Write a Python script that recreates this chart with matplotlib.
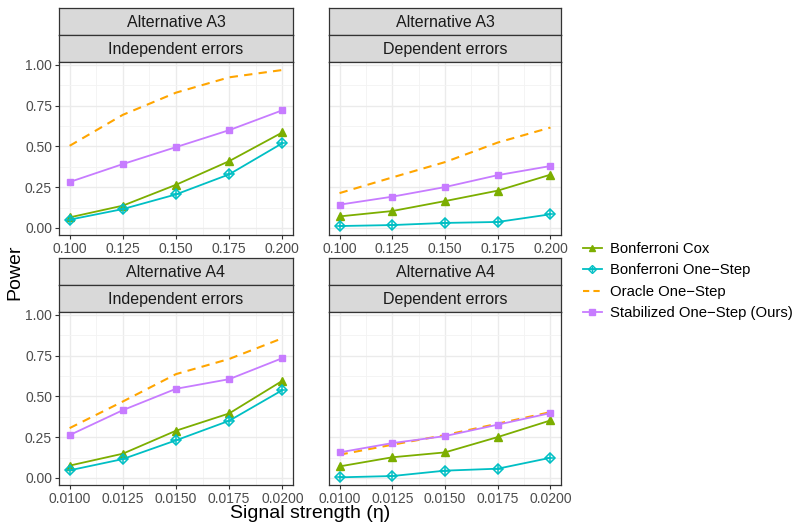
import numpy as np
import matplotlib.pyplot as plt
from matplotlib.lines import Line2D

plt.rcParams['font.family'] = ['Liberation Sans', 'DejaVu Sans']

eta_a3 = [0.100, 0.125, 0.150, 0.175, 0.200]
eta_a4 = [0.0100, 0.0125, 0.0150, 0.0175, 0.0200]
a3_ticks = ['0.100', '0.125', '0.150', '0.175', '0.200']
a4_ticks = ['0.0100', '0.0125', '0.0150', '0.0175', '0.0200']

methods = ['Bonferroni Cox', 'Bonferroni One\u2212Step', 'Oracle One\u2212Step', 'Stabilized One\u2212Step (Ours)']

# power values per panel, one list per method (same order as methods)
a3_indep = [[0.065, 0.137, 0.265, 0.410, 0.586],
            [0.051, 0.116, 0.206, 0.329, 0.520],
            [0.504, 0.694, 0.830, 0.924, 0.969],
            [0.282, 0.392, 0.496, 0.600, 0.722]]
a3_dep = [[0.071, 0.104, 0.165, 0.229, 0.327],
          [0.012, 0.018, 0.031, 0.037, 0.084],
          [0.214, 0.310, 0.404, 0.524, 0.616],
          [0.143, 0.192, 0.251, 0.324, 0.380]]
a4_indep = [[0.076, 0.149, 0.290, 0.396, 0.596],
            [0.047, 0.116, 0.231, 0.351, 0.539],
            [0.306, 0.469, 0.637, 0.730, 0.857],
            [0.263, 0.416, 0.547, 0.606, 0.735]]
a4_dep = [[0.071, 0.127, 0.157, 0.251, 0.353],
          [0.004, 0.012, 0.045, 0.057, 0.124],
          [0.143, 0.204, 0.263, 0.333, 0.404],
          [0.157, 0.214, 0.257, 0.327, 0.398]]

colors = ['#7CAE00', '#00BFC4', '#FFA500', '#C77CFF']

W, H = 793, 526
fig = plt.figure(figsize=(W / 100, H / 100), dpi=100)


def fbox(x0, x1, y0, y1):
    # pixel box (top-left origin) -> figure rect
    return [x0 / W, 1 - y1 / H, (x1 - x0) / W, (y1 - y0) / H]


def strip(x0, x1, y0, y1, text):
    sa = fig.add_axes(fbox(x0, x1, y0, y1))
    sa.set_facecolor('#D9D9D9')
    sa.set_xticks([])
    sa.set_yticks([])
    for s in sa.spines.values():
        s.set_color('#333333')
        s.set_linewidth(0.9)
    sa.text(0.5, 0.47, text, ha='center', va='center', fontsize=11.5, color='#1A1A1A',
            transform=sa.transAxes)


def panel(x0, x1, y_top, data, eta, ticks, alt, err, show_y):
    strip(x0, x1, y_top, y_top + 27, alt)
    strip(x0, x1, y_top + 27, y_top + 54, err)
    ax = fig.add_axes(fbox(x0, x1, y_top + 54, y_top + 227))
    step = eta[1] - eta[0]
    ax.set_xlim(eta[0] - step * 0.2, eta[-1] + step * 0.2)
    ax.set_ylim(-0.043, 1.018)
    ax.set_xticks(eta)
    ax.set_xticklabels(ticks)
    ax.set_xticks([e + step / 2 for e in eta[:-1]], minor=True)
    ax.set_yticks([0, 0.25, 0.5, 0.75, 1.0])
    ax.set_yticks([0.125, 0.375, 0.625, 0.875], minor=True)
    ax.grid(True, which='major', color='#EBEBEB', linewidth=1.0)
    ax.grid(True, which='minor', color='#F3F3F3', linewidth=0.6)
    ax.set_axisbelow(True)
    ax.tick_params(which='minor', length=0)
    ax.tick_params(which='major', labelsize=10, labelcolor='#4D4D4D', color='#333333',
                   length=3, width=0.8, pad=2)
    if show_y:
        ax.set_yticklabels(['0.00', '0.25', '0.50', '0.75', '1.00'])
    else:
        ax.set_yticklabels([])
        ax.tick_params(axis='y', which='major', length=0)
    for s in ax.spines.values():
        s.set_color('#333333')
        s.set_linewidth(0.9)

    ax.plot(eta, data[0], color=colors[0], lw=1.3, marker='^', ms=5.5)
    ax.plot(eta, data[1], color=colors[1], lw=1.3, marker='D', ms=5.5, mfc='none', mew=1.1)
    ax.plot(eta, data[1], color=colors[1], lw=0, marker='+', ms=5.5, mew=1.1)
    ax.plot(eta, data[2], color=colors[2], lw=1.5, ls=(0, (4, 3)))
    ax.plot(eta, data[3], color=colors[3], lw=1.3, marker='s', ms=5)
    return ax


panel(59, 293, 8, a3_indep, eta_a3, a3_ticks, 'Alternative A3', 'Independent errors', True)
panel(329, 561, 8, a3_dep, eta_a3, a3_ticks, 'Alternative A3', 'Dependent errors', False)
panel(59, 293, 258, a4_indep, eta_a4, a4_ticks, 'Alternative A4', 'Independent errors', True)
panel(329, 561, 258, a4_dep, eta_a4, a4_ticks, 'Alternative A4', 'Dependent errors', False)

fig.text(15 / W, 1 - 272 / H, 'Power', rotation=90, ha='center', va='center', fontsize=14)
fig.text(310 / W, 1 - 514 / H, 'Signal strength (\u03b7)', ha='center', va='center', fontsize=14)

handles = [
    Line2D([], [], color=colors[0], lw=1.3, marker='^', ms=4.5),
    (Line2D([], [], color=colors[1], lw=1.3, marker='D', ms=4.5, mfc='none', mew=1.0),
     Line2D([], [], color=colors[1], lw=0, marker='+', ms=4.5, mew=1.0)),
    Line2D([], [], color=colors[2], lw=1.5, ls=(0, (3, 2))),
    Line2D([], [], color=colors[3], lw=1.3, marker='s', ms=4),
]
fig.legend(handles, methods, loc='center left', bbox_to_anchor=(583 / W, 1 - 281 / H),
           frameon=False, fontsize=10.7, handlelength=1.25, handletextpad=0.6,
           labelspacing=0.5, borderaxespad=0, borderpad=0)

fig.savefig('out.png', dpi=100)
